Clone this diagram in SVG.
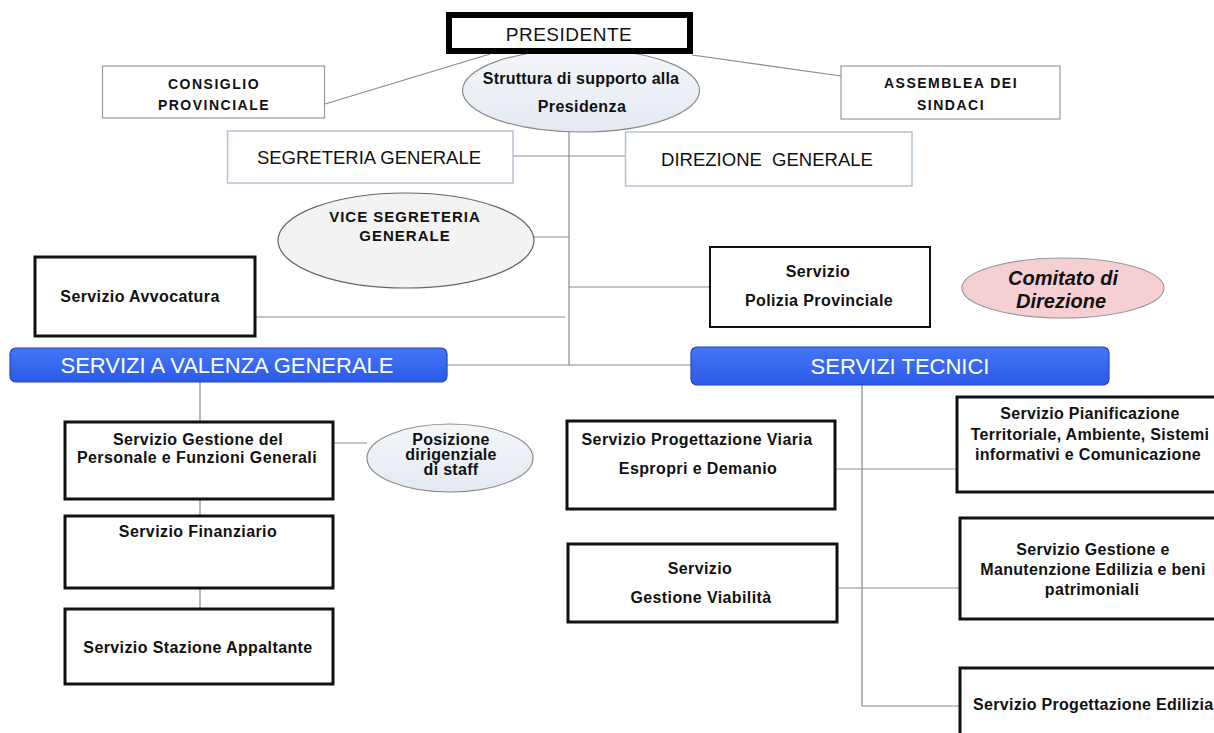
<svg xmlns="http://www.w3.org/2000/svg" width="1214" height="733" viewBox="0 0 1214 733">
<defs>
<linearGradient id="blue" x1="0" y1="0" x2="0" y2="1">
<stop offset="0" stop-color="#4476f6"/>
<stop offset="1" stop-color="#2b5ae8"/>
</linearGradient>
<linearGradient id="oval" x1="0" y1="0" x2="0" y2="1">
<stop offset="0" stop-color="#f4f6fa"/>
<stop offset="1" stop-color="#e4e9f2"/>
</linearGradient>
<style>
text{font-family:"Liberation Sans",Arial,sans-serif;fill:#111;text-anchor:middle}
.s{font-size:16px;font-weight:bold;letter-spacing:0.4px}
.s3{font-size:16px;font-weight:bold;letter-spacing:0.3px}
.cap{font-size:14px;font-weight:bold;letter-spacing:1.5px}
.big{font-size:18.5px}
.bar{font-size:22px;fill:#fff}
.thin{fill:#fff;stroke:#9a9a9a;stroke-width:1.2}
.lite{fill:#fff;stroke:#b4c2d4;stroke-width:1.5}
.thick{fill:#fff;stroke:#111;stroke-width:3}
.ov{fill:url(#oval);stroke:#8c8c8c;stroke-width:1.2}
.bb{fill:url(#blue);stroke:#2446b8;stroke-width:1.2}
.c{stroke:#8a8a8a;stroke-width:1.2;fill:none}
</style>
</defs>
<rect width="1214" height="733" fill="#fff"/>

<g id="connectors" class="c">
<line x1="325" y1="104" x2="490" y2="54"/>
<line x1="692" y1="55" x2="841" y2="76"/>
<line x1="569" y1="132" x2="569" y2="365"/>
<line x1="513" y1="156" x2="626" y2="156"/>
<line x1="534" y1="237" x2="569" y2="237"/>
<line x1="569" y1="287" x2="710" y2="287"/>
<line x1="255" y1="317" x2="565" y2="317"/>
<line x1="447" y1="365" x2="691" y2="365"/>
<line x1="200" y1="382" x2="200" y2="422"/>
<line x1="333" y1="443" x2="367" y2="443"/>
<line x1="200" y1="499" x2="200" y2="516"/>
<line x1="200" y1="588" x2="200" y2="609"/>
<polyline points="862,385 862,706 960,706"/>
<line x1="835" y1="469" x2="957" y2="469"/>
<line x1="837" y1="588" x2="960" y2="588"/>
</g>

<g id="struttura">
<ellipse class="ov" cx="581" cy="90.5" rx="118.5" ry="41.5"/>
<text class="s" x="581" y="84" style="letter-spacing:0.2px">Struttura di supporto alla</text>
<text class="s" x="582" y="112">Presidenza</text>
</g>

<g id="presidente">
<rect x="449" y="15" width="241" height="36" fill="#fff" stroke="#000" stroke-width="6"/>
<text x="569" y="41" style="font-size:19px;letter-spacing:0.5px">PRESIDENTE</text>
</g>

<g id="consiglio">
<rect class="thin" x="102.5" y="66" width="222" height="52"/>
<text class="cap" x="214" y="89">CONSIGLIO</text>
<text class="cap" x="214" y="110">PROVINCIALE</text>
</g>

<g id="assemblea">
<rect class="thin" x="841" y="66" width="219" height="53"/>
<text class="cap" x="951" y="88">ASSEMBLEA DEI</text>
<text class="cap" x="951" y="110">SINDACI</text>
</g>

<g id="segreteria">
<rect class="lite" x="227.5" y="131" width="285.5" height="52"/>
<text class="big" x="369" y="164">SEGRETERIA GENERALE</text>
</g>

<g id="direzione">
<rect class="lite" x="625.5" y="132" width="286.5" height="54"/>
<text class="big" x="767" y="166" style="white-space:pre">DIREZIONE  GENERALE</text>
</g>

<g id="vice">
<ellipse class="ov" cx="406" cy="240.5" rx="128" ry="47.5" style="fill:#f3f3f3;stroke:#666"/>
<text x="405" y="222" style="font-size:15px;font-weight:bold;letter-spacing:1px">VICE SEGRETERIA</text>
<text x="405" y="241" style="font-size:15px;font-weight:bold;letter-spacing:1px">GENERALE</text>
</g>

<g id="avvocatura">
<rect class="thick" x="35" y="257" width="220" height="79"/>
<text class="s" x="140" y="302">Servizio Avvocatura</text>
</g>

<g id="polizia">
<rect class="thick" x="710" y="247" width="220" height="80" style="stroke-width:2"/>
<text class="s" x="818" y="277">Servizio</text>
<text class="s" x="819" y="306">Polizia Provinciale</text>
</g>

<g id="comitato">
<ellipse cx="1063" cy="288" rx="101" ry="30" fill="#f6cfd3" stroke="#9a9a9a" stroke-width="1.2"/>
<text x="1063" y="285" style="font-size:20px;font-weight:bold;font-style:italic">Comitato di</text>
<text x="1061" y="308" style="font-size:20px;font-weight:bold;font-style:italic">Direzione</text>
</g>

<g id="servizi-valenza-generale">
<rect class="bb" x="10" y="348" width="437" height="34" rx="6"/>
<text class="bar" x="227" y="373">SERVIZI A VALENZA GENERALE</text>
</g>

<g id="servizi-tecnici">
<rect class="bb" x="691" y="347" width="418" height="38" rx="6"/>
<text class="bar" x="900" y="374">SERVIZI TECNICI</text>
</g>

<g id="gestione-personale">
<rect class="thick" x="65" y="422" width="268" height="77"/>
<text class="s" x="198" y="445">Servizio Gestione del</text>
<text class="s" x="197" y="463">Personale e Funzioni Generali</text>
</g>

<g id="posizione">
<ellipse class="ov" cx="450" cy="458" rx="83" ry="34"/>
<text class="s3" x="451" y="445">Posizione</text>
<text class="s3" x="451" y="460">dirigenziale</text>
<text class="s3" x="451" y="475">di staff</text>
</g>

<g id="finanziario">
<rect class="thick" x="65" y="516" width="268" height="72"/>
<text class="s" x="198" y="537">Servizio Finanziario</text>
</g>

<g id="stazione-appaltante">
<rect class="thick" x="65" y="609" width="268" height="75"/>
<text class="s" x="198" y="653">Servizio Stazione Appaltante</text>
</g>

<g id="progettazione-viaria">
<rect class="thick" x="567" y="421" width="268" height="88"/>
<text class="s" x="697" y="445">Servizio Progettazione Viaria</text>
<text class="s" x="698" y="474">Espropri e Demanio</text>
</g>

<g id="gestione-viabilita">
<rect class="thick" x="568" y="544" width="269" height="78"/>
<text class="s" x="700" y="574">Servizio</text>
<text class="s" x="701" y="603">Gestione Viabilità</text>
</g>

<g id="pianificazione">
<rect class="thick" x="957" y="397" width="270" height="95"/>
<text class="s3" x="1090" y="419">Servizio Pianificazione</text>
<text class="s3" x="1090" y="440">Territoriale, Ambiente, Sistemi</text>
<text class="s3" x="1088" y="460">informativi e Comunicazione</text>
</g>

<g id="manutenzione">
<rect class="thick" x="960" y="518" width="270" height="101"/>
<text class="s3" x="1093" y="555">Servizio Gestione e</text>
<text class="s3" x="1093" y="575">Manutenzione Edilizia e beni</text>
<text class="s3" x="1092" y="595">patrimoniali</text>
</g>

<g id="progettazione-edilizia">
<rect class="thick" x="960" y="668" width="270" height="80"/>
<text class="s3" x="973" y="710" style="text-anchor:start">Servizio Progettazione Edilizia</text>
</g>
</svg>
